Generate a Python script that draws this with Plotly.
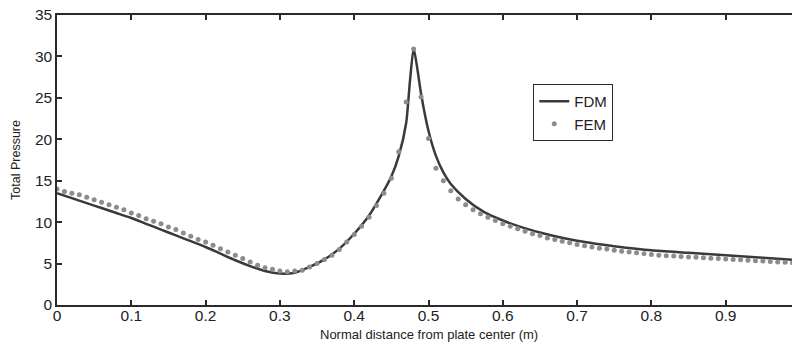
import plotly.graph_objects as go

# FDM (solid line)
fdm_x = [0.00, 0.02, 0.04, 0.06, 0.08, 0.10, 0.12, 0.14, 0.16, 0.18, 0.20, 0.22, 0.24, 0.26, 0.28,
         0.30, 0.32, 0.34, 0.36, 0.38, 0.40, 0.42, 0.44, 0.45, 0.46, 0.47, 0.475, 0.48, 0.485, 0.49,
         0.50, 0.51, 0.52, 0.53, 0.55, 0.575, 0.60, 0.625, 0.65, 0.675, 0.70, 0.725, 0.75, 0.80,
         0.85, 0.90, 0.95, 1.00]
fdm_y = [13.5, 12.9, 12.3, 11.7, 11.1, 10.5, 9.8, 9.1, 8.4, 7.7, 7.0, 6.2, 5.4, 4.7, 4.1,
         3.8, 3.9, 4.6, 5.5, 6.8, 8.6, 10.8, 13.8, 15.5, 18.0, 22.0, 27.0, 31.0, 28.5, 25.5,
         21.0, 18.0, 16.0, 14.6, 12.8, 11.2, 10.2, 9.4, 8.75, 8.2, 7.75, 7.4, 7.1, 6.6,
         6.3, 6.0, 5.7, 5.4]

# FEM (dots) at x = 0.00 ... 1.00 step 0.01
fem_x = [round(i * 0.01, 2) for i in range(101)]
fem_y = [14.0, 13.7, 13.5, 13.3, 13.0, 12.7, 12.4, 12.1, 11.8, 11.5,
         11.1, 10.8, 10.4, 10.1, 9.8, 9.4, 9.1, 8.7, 8.3, 7.9,
         7.6, 7.2, 6.8, 6.4, 6.0, 5.6, 5.2, 4.8, 4.5, 4.3,
         4.1, 4.0, 4.1, 4.2, 4.6, 5.0, 5.5, 6.0, 6.7, 7.6,
         8.5, 9.5, 10.6, 12.0, 13.5, 15.3, 18.5, 24.5, 30.9, 25.1,
         20.1, 16.5, 15.0, 13.8, 12.8, 12.1, 11.5, 11.0, 10.6, 10.2,
         9.8, 9.5, 9.2, 8.9, 8.6, 8.4, 8.1, 7.9, 7.7, 7.5,
         7.3, 7.15, 7.0, 6.85, 6.75, 6.6, 6.5, 6.4, 6.3, 6.2,
         6.1, 6.0, 5.95, 5.9, 5.85, 5.8, 5.75, 5.7, 5.65, 5.6,
         5.55, 5.5, 5.45, 5.4, 5.35, 5.3, 5.25, 5.2, 5.15, 5.1,
         5.0]

x_ticks = [0, 0.1, 0.2, 0.3, 0.4, 0.5, 0.6, 0.7, 0.8, 0.9, 1]
x_tick_labels = ["0", "0.1", "0.2", "0.3", "0.4", "0.5", "0.6", "0.7", "0.8", "0.9", "1"]
y_ticks = [0, 5, 10, 15, 20, 25, 30, 35]

FONT = "Liberation Sans, Arial"

fig = go.Figure()
fig.add_trace(go.Scatter(x=fdm_x, y=fdm_y, mode="lines", name="FDM",
                         line=dict(color="#3a3a3a", width=2.5, shape="spline", smoothing=0.6)))
fig.add_trace(go.Scatter(x=fem_x, y=fem_y, mode="markers", name="FEM",
                         marker=dict(color="#8c8c8c", size=5)))

axis_common = dict(showgrid=False, zeroline=False, showline=True, linecolor="#2a2a2a",
                   linewidth=1.5, mirror="ticks", ticks="inside", ticklen=5, tickwidth=1.5,
                   automargin=False, ticklabeloverflow="allow",
                   tickcolor="#2a2a2a", tickfont=dict(family=FONT, size=15.5, color="#222"))

fig.update_xaxes(range=[0, 1], tickvals=x_ticks, ticktext=x_tick_labels,
                 ticklabelstandoff=-4, **axis_common)
fig.update_yaxes(range=[0, 35], tickvals=y_ticks,
                 title=dict(text="Total Pressure", standoff=12,
                            font=dict(family=FONT, size=12.5, color="#222")),
                 **axis_common)

fig.add_annotation(text="Normal distance from plate center (m)", xref="paper", yref="paper",
                   x=0.5, y=-0.103, xanchor="center", yanchor="middle", showarrow=False,
                   font=dict(family=FONT, size=13, color="#222"))

# page body has an 8px default margin, so margins are offset to compensate
fig.update_layout(
    width=800, height=346,
    margin=dict(l=49, r=8, t=7, b=49),
    plot_bgcolor="white", paper_bgcolor="white",
    showlegend=True,
    legend=dict(x=0.641, y=0.762, xanchor="left", yanchor="top",
                bordercolor="#2a2a2a", borderwidth=1, bgcolor="white",
                font=dict(family=FONT, size=15, color="#222"),
                tracegroupgap=0, itemwidth=30),
)

fig.write_html("out.html")
